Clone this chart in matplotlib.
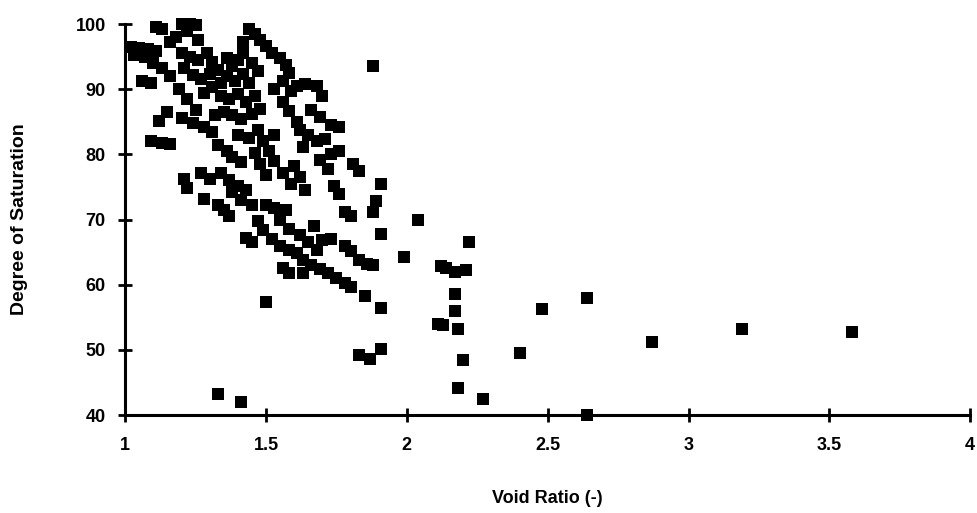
import matplotlib
matplotlib.use("Agg")
import matplotlib.pyplot as plt

# void ratio / degree of saturation pairs
void_ratio = [
  1.02, 1.05, 1.08, 1.11, 1.03, 1.07, 1.10, 1.13, 1.06, 1.09,
  1.11, 1.13, 1.20, 1.23, 1.25, 1.22, 1.18, 1.16, 1.26, 1.44,
  1.46, 1.48, 1.42, 1.50, 1.52, 1.55, 1.57, 1.58, 1.56, 1.53,
  1.16, 1.19, 1.22, 1.25, 1.20, 1.23, 1.26, 1.29, 1.31, 1.21,
  1.24, 1.27, 1.30, 1.33, 1.28, 1.31, 1.34, 1.36, 1.38, 1.40,
  1.42, 1.45, 1.36, 1.39, 1.42, 1.44, 1.47, 1.34, 1.37, 1.40,
  1.43, 1.46, 1.48, 1.35, 1.38, 1.41, 1.45, 1.32, 1.09, 1.13,
  1.16, 1.12, 1.15, 1.20, 1.24, 1.28, 1.33, 1.36, 1.38, 1.41,
  1.31, 1.40, 1.44, 1.47, 1.49, 1.46, 1.48, 1.51, 1.53, 1.50,
  1.53, 1.56, 1.59, 1.61, 1.64, 1.68, 1.70, 1.58, 1.61, 1.66,
  1.69, 1.73, 1.76, 1.62, 1.65, 1.68, 1.63, 1.71, 1.73, 1.76,
  1.69, 1.72, 1.81, 1.83, 1.60, 1.62, 1.64, 1.59, 1.56, 1.21,
  1.22, 1.27, 1.30, 1.28, 1.34, 1.37, 1.40, 1.43, 1.38, 1.41,
  1.45, 1.35, 1.37, 1.33, 1.74, 1.76, 1.88, 1.91, 1.89, 1.88,
  1.50, 1.53, 1.57, 1.55, 1.58, 1.47, 1.49, 1.43, 1.45, 1.52,
  1.55, 1.58, 1.61, 1.63, 1.66, 1.69, 1.56, 1.58, 1.62, 1.65,
  1.68, 1.70, 1.67, 1.73, 1.78, 1.80, 1.72, 1.75, 1.78, 1.80,
  1.63, 1.78, 1.80, 1.83, 1.86, 1.88, 1.91, 1.85, 1.50, 1.91,
  1.83, 1.87, 1.91, 1.33, 1.41,
  1.99, 2.04, 2.11, 2.13, 2.12, 2.14, 2.17, 2.21, 2.22, 2.17,
  2.17, 2.18, 2.20, 2.18, 2.27, 2.40, 2.48, 2.64, 2.87, 3.19,
  3.58, 2.64,
]
saturation = [
  96.5, 96.4, 96.2, 95.8, 95.2, 95.0, 94.0, 93.2, 91.2, 91.0,
  99.6, 99.3, 100.0, 100.0, 99.8, 99.0, 98.0, 97.2, 97.5, 99.3,
  98.5, 97.5, 97.2, 96.6, 95.6, 94.8, 93.8, 92.5, 91.2, 90.0,
  92.0, 90.0, 88.5, 86.8, 95.6, 95.0, 94.5, 95.5, 94.2, 93.2,
  92.2, 91.5, 92.4, 93.0, 89.5, 90.4, 91.0, 94.8, 93.5, 94.5,
  95.5, 94.0, 92.0, 91.2, 92.4, 91.0, 92.8, 89.0, 88.5, 89.2,
  88.0, 89.0, 87.0, 86.5, 86.0, 85.5, 86.2, 86.0, 82.0, 81.8,
  81.6, 85.2, 86.5, 85.6, 84.8, 84.2, 81.5, 80.5, 79.6, 78.8,
  83.5, 83.0, 82.5, 83.8, 82.0, 80.2, 78.5, 80.5, 79.0, 76.8,
  83.0, 88.0, 89.8, 90.5, 90.8, 90.5, 89.0, 86.6, 85.0, 86.8,
  85.8, 84.5, 84.2, 83.8, 83.0, 82.0, 81.2, 82.4, 80.0, 80.5,
  79.2, 77.8, 78.6, 77.4, 78.2, 76.6, 74.5, 75.4, 77.2, 76.2,
  74.8, 77.2, 76.2, 73.2, 77.2, 76.0, 75.2, 74.6, 74.2, 73.0,
  72.2, 71.5, 70.6, 72.2, 75.2, 74.0, 93.6, 75.4, 72.8, 71.2,
  72.2, 71.8, 71.5, 70.0, 68.6, 69.8, 68.4, 67.2, 66.6, 67.0,
  66.0, 65.4, 64.8, 63.8, 63.0, 62.4, 62.6, 61.8, 67.6, 66.6,
  65.4, 66.8, 69.0, 67.0, 71.2, 70.6, 61.8, 61.0, 60.2, 59.6,
  61.8, 66.0, 65.2, 63.8, 63.2, 63.0, 67.8, 58.2, 57.4, 56.4,
  49.2, 48.6, 50.2, 43.2, 42.0,
  64.2, 70.0, 54.0, 53.8, 62.8, 62.6, 62.0, 62.2, 66.6, 58.6,
  56.0, 53.2, 48.4, 44.2, 42.4, 49.5, 56.2, 58.0, 51.2, 53.2,
  52.8, 40.0,
]

x_ticks = [1, 1.5, 2, 2.5, 3, 3.5, 4]
x_tick_labels = ['1', '1.5', '2', '2.5', '3', '3.5', '4']
y_ticks = [40, 50, 60, 70, 80, 90, 100]

plt.rcParams['font.family'] = ['Liberation Sans', 'DejaVu Sans']
plt.rcParams['font.weight'] = 'bold'

fig = plt.figure(figsize=(9.78, 5.13), dpi=100)
ax = fig.add_axes([0.128, 0.191, 0.864, 0.762])

ax.plot(void_ratio, saturation, linestyle='none', marker='s', markersize=8.5,
        color='black', markeredgewidth=0, clip_on=False)

ax.set_xlim(1, 4)
ax.set_ylim(40, 100)
ax.set_xticks(x_ticks)
ax.set_xticklabels(x_tick_labels)
ax.set_yticks(y_ticks)

for side in ['top', 'right']:
  ax.spines[side].set_visible(False)
for side in ['left', 'bottom']:
  ax.spines[side].set_linewidth(2.2)
  ax.spines[side].set_color('black')

ax.tick_params(direction='inout', length=10, width=2, colors='black',
               labelsize=13)
ax.tick_params(axis='x', pad=11)
ax.tick_params(axis='y', pad=9)
for lbl in ax.get_xticklabels() + ax.get_yticklabels():
  lbl.set_fontweight('bold')

ax.set_xlabel('Void Ratio (-)', fontsize=13, fontweight='bold', labelpad=26)
ax.set_ylabel('Degree of Saturation', fontsize=14, fontweight='bold', labelpad=34)

fig.savefig('out.png', dpi=100)
